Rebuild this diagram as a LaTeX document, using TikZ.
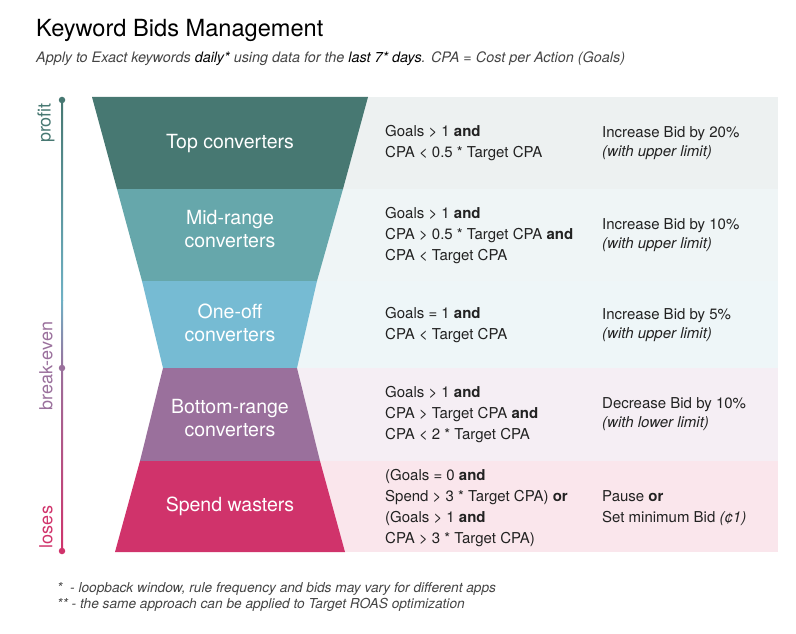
\documentclass[tikz,border=0pt]{standalone}
\usepackage{fontspec}
\setmainfont{TeX Gyre Heros}
\usetikzlibrary{positioning, calc}
\definecolor{ctop}{HTML}{477872}
\definecolor{cmid}{HTML}{66A7AB}
\definecolor{cone}{HTML}{76BBD3}
\definecolor{cbot}{HTML}{9A709C}
\definecolor{cspend}{HTML}{D0336B}
\definecolor{bgtop}{HTML}{EDF1F1}
\definecolor{bgmid}{HTML}{EFF5F6}
\definecolor{bgone}{HTML}{EEF6F8}
\definecolor{bgbot}{HTML}{F5EEF4}
\definecolor{bgspend}{HTML}{FAE6EC}
\definecolor{ctext}{HTML}{222222}
\definecolor{cnote}{HTML}{444444}

\begin{document}
\begin{tikzpicture}[x=1pt, y=-1pt,
    seg/.style={text=white, align=center, font=\fontsize{19.5}{23}\selectfont},
    cond/.style={anchor=west, align=left, inner sep=0pt, text=ctext, font=\fontsize{15}{21}\selectfont},
    act/.style={anchor=west, align=left, inner sep=0pt, text=ctext, font=\fontsize{15}{19}\selectfont},
    axlabel/.style={rotate=90, font=\fontsize{18}{18}\selectfont},
    dot/.style={circle, inner sep=0pt, minimum size=6.5pt},
    note/.style={anchor=base west, inner sep=0pt, text=cnote, font=\fontsize{13.7}{16}\selectfont\itshape}
]
\useasboundingbox (0,0) rectangle (796,634);

% title
\node[anchor=base west, inner sep=0pt, font=\fontsize{23.6}{28}\selectfont] (title) at (36,37) {Keyword Bids Management};
\node[anchor=base west, inner sep=0pt, text=cnote, font=\fontsize{14.4}{17}\selectfont\itshape] (sub) at (36,63)
  {Apply to Exact keywords \textcolor{black}{daily*} using data for the \textcolor{black}{last 7* days}. CPA = Cost per Action (Goals)};

% row backgrounds
\fill[bgtop] (300,97) rectangle (778,189);
\fill[bgmid] (300,189) rectangle (778,281);
\fill[bgone] (250,281) rectangle (778,368);
\fill[bgbot] (250,368) rectangle (778,461);
\fill[bgspend] (300,461) rectangle (778,552);

% funnel
\fill[ctop] (92,97) -- (368,97) -- (343,189) -- (117,189) -- cycle;
\fill[cmid] (117,189) -- (343,189) -- (317,281) -- (142,281) -- cycle;
\fill[cone] (142,281) -- (317,281) -- (297,368) -- (163,368) -- cycle;
\fill[cbot] (163,368) -- (297,368) -- (320,461) -- (140,461) -- cycle;
\fill[cspend] (140,461) -- (320,461) -- (345,552) -- (115,552) -- cycle;

\node[seg] (top) at (230,144) {Top converters};
\node[seg] (mid) at (230,229) {Mid-range\\converters};
\node[seg] (one) at (230,323) {One-off\\converters};
\node[seg] (bot) at (230,418) {Bottom-range\\converters};
\node[seg] (spend) at (230,506) {Spend wasters};

% rules
\node[cond] (c1) at (385,143) {Goals > 1 \textbf{and}\\CPA < 0.5 * Target CPA};
\node[act] (a1) at (602,143) {Increase Bid by 20\%\\\textit{(with upper limit)}};
\node[cond] (c2) at (385,236) {Goals > 1 \textbf{and}\\CPA > 0.5 * Target CPA \textbf{and}\\CPA < Target CPA};
\node[act] (a2) at (602,235) {Increase Bid by 10\%\\\textit{(with upper limit)}};
\node[cond] (c3) at (385,325) {Goals = 1 \textbf{and}\\CPA < Target CPA};
\node[act] (a3) at (602,325) {Increase Bid by 5\%\\\textit{(with upper limit)}};
\node[cond] (c4) at (385,415) {Goals > 1 \textbf{and}\\CPA > Target CPA \textbf{and}\\CPA < 2 * Target CPA};
\node[act] (a4) at (602,414) {Decrease Bid by 10\%\\\textit{(with lower limit)}};
\node[cond] (c5) at (385,508) {(Goals = 0 \textbf{and}\\Spend > 3 * Target CPA) \textbf{or}\\(Goals > 1 \textbf{and}\\CPA > 3 * Target CPA)};
\node[act, font=\fontsize{15}{21}\selectfont] (a5) at (602,508) {Pause \textbf{or}\\Set minimum Bid \textit{(¢1)}};

% left scale
\coordinate (ptop) at (62,100);
\coordinate (pmid) at (62,368);
\coordinate (pbot) at (62,551);
\shade[top color=ctop, bottom color=cone!85!ctop] ($(ptop)+(-1,0)$) rectangle ($(62,300)+(1,0)$);
\shade[top color=cone!85!ctop, bottom color=cbot] ($(62,300)+(-1,0)$) rectangle ($(pmid)+(1,0)$);
\shade[top color=cbot, bottom color=cspend] ($(pmid)+(-1,0)$) rectangle ($(pbot)+(1,0)$);
\node[dot, fill=ctop] (dtop) at (ptop) {};
\node[dot, fill=cbot] (dmid) at (pmid) {};
\node[dot, fill=cspend] (dbot) at (pbot) {};
\node[axlabel, text=ctop] (profit) at (46,123) {profit};
\node[axlabel, text=cbot] (even) at (46,366) {break-even};
\node[axlabel, text=cspend] (loses) at (46,527) {loses};

% footnotes
\node[note] (n1) at (57,592) {*\ \ - loopback window, rule frequency and bids may vary for different apps};
\node[note] (n2) at (57,608) {** - the same approach can be applied to Target ROAS optimization};
\end{tikzpicture}
\end{document}
